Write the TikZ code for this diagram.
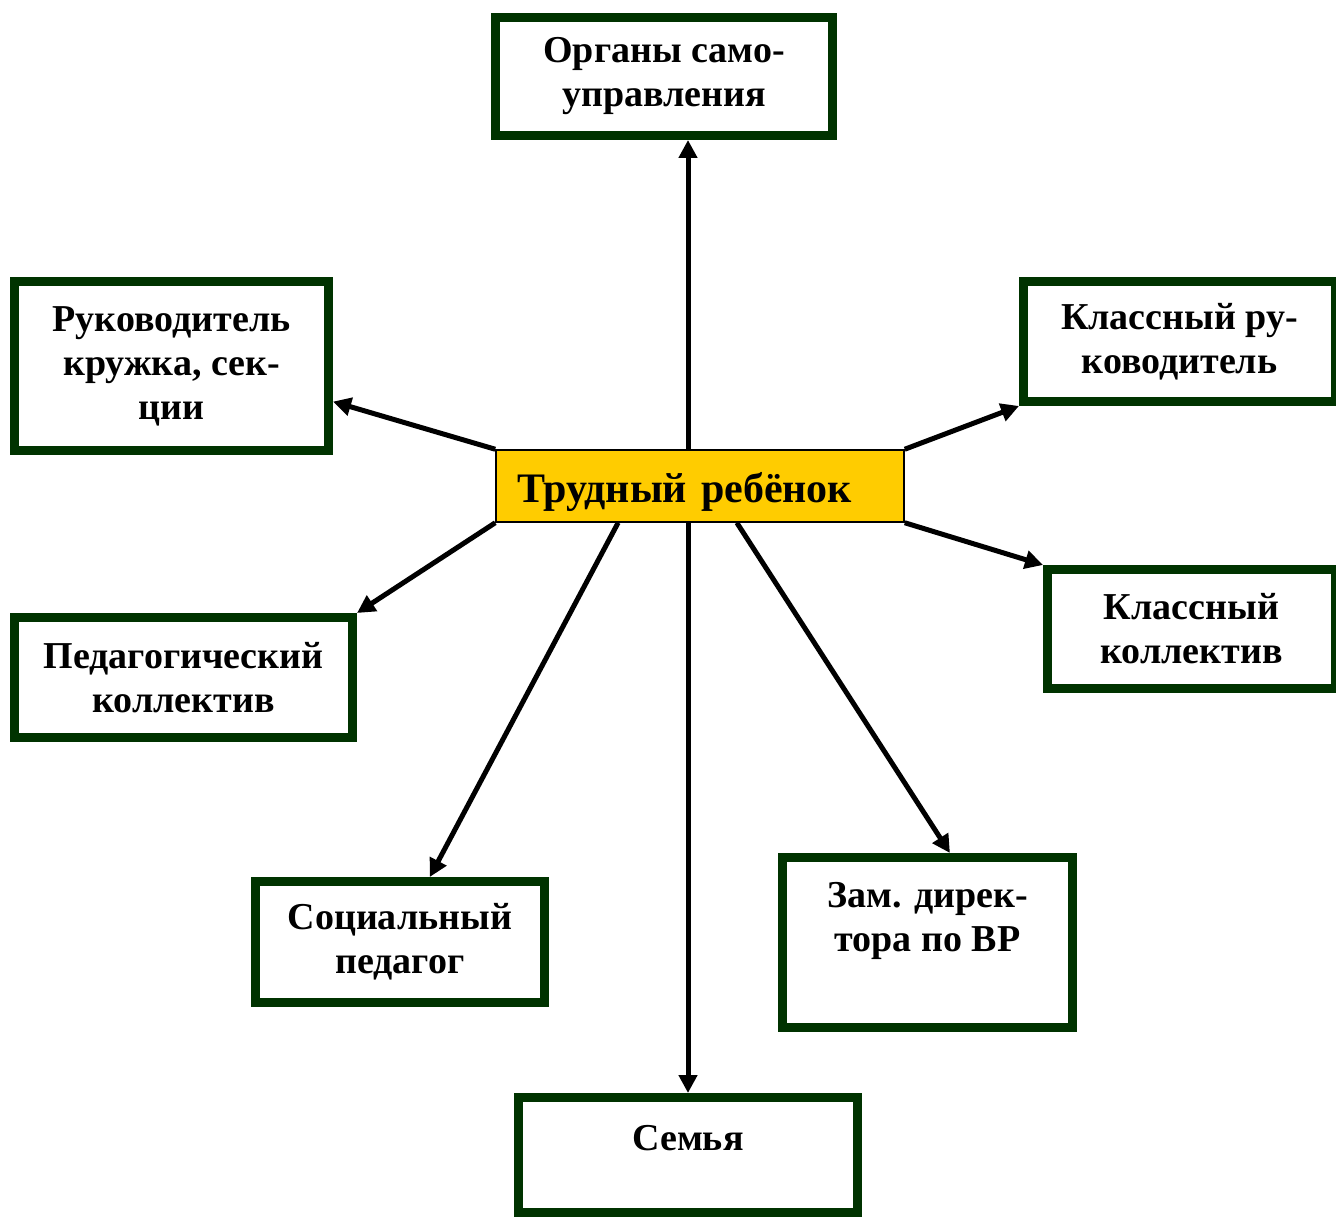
\documentclass[tikz,border=0pt]{standalone}
\usepackage{fontspec}
\setmainfont{Liberation Serif}
\usetikzlibrary{arrows.meta,calc}
\definecolor{boxgreen}{RGB}{0,51,0}
\definecolor{childyellow}{RGB}{255,204,0}

\begin{document}
\begin{tikzpicture}[x=0.5pt,y=-0.5pt,
    box/.style={draw=boxgreen,line width=4.5pt,align=center,inner sep=0pt,
      font=\fontsize{19}{22}\selectfont\bfseries},
    link/.style={line width=2.5pt,-{Triangle[length=9pt,width=9pt]}}]
            \useasboundingbox (0,0) rectangle (1336,1218);
            \node[draw,fill=childyellow,line width=0.75pt,minimum height=36pt,
              inner xsep=10.5pt,text width=183pt,align=left,
              font=\fontsize{21}{24}\selectfont\bfseries] (child) at (700,486) {\raisebox{-3pt}[\height][\depth]{Трудный ребёнок}};
            \node[box,minimum width=168.5pt,minimum height=59pt] (samoupr) at (664,76.5) {Органы само-\\управления};
            \node[box,minimum width=157pt,minimum height=84.5pt] (ruk) at (171.5,366) {Руководитель\\кружка, сек-\\ции};
            \node[box,minimum width=156pt,minimum height=60pt] (klruk) at (1179.5,341.5) {Классный ру-\\ководитель};
            \node[box,minimum width=169pt,minimum height=60pt] (ped) at (183.5,677.5) {Педагогический\\коллектив};
            \node[box,minimum width=144pt,minimum height=59.5pt] (klkol) at (1191.5,629) {Классный\\коллектив};
            \node[box,minimum width=144.5pt,minimum height=60.5pt] (soc) at (400,942) {Социальный\\педагог};
            \node[box,minimum width=145pt,minimum height=85pt] (zam) at (927.5,942.5) {Зам. дирек-\\тора по ВР\\[-3pt]\strut};
            \node[box,minimum width=169.5pt,minimum height=57.5pt] (semya) at (688,1155) {Семья\\[-12pt]\strut};
            \draw[link] (child.north -| semya.north) -- (samoupr.south -| semya.north);
            \draw[link] (child.south -| semya.north) -- (semya.north);
            \draw[link] (child.north west) -- ($(ruk.north east)!0.7!(ruk.south east)$);
            \draw[link] (child.north east) -- (klruk.south west);
            \draw[link] (child.south west) -- (ped.north east);
            \draw[link] (child.south east) -- (klkol.north west);
            \draw[link] ($(child.south west)!0.3!(child.south east)$) -- ($(soc.north west)!0.6!(soc.north east)$);
            \draw[link] ($(child.south west)!0.59!(child.south east)$) -- ($(zam.north west)!0.575!(zam.north east)$);
        \end{tikzpicture}
\end{document}
